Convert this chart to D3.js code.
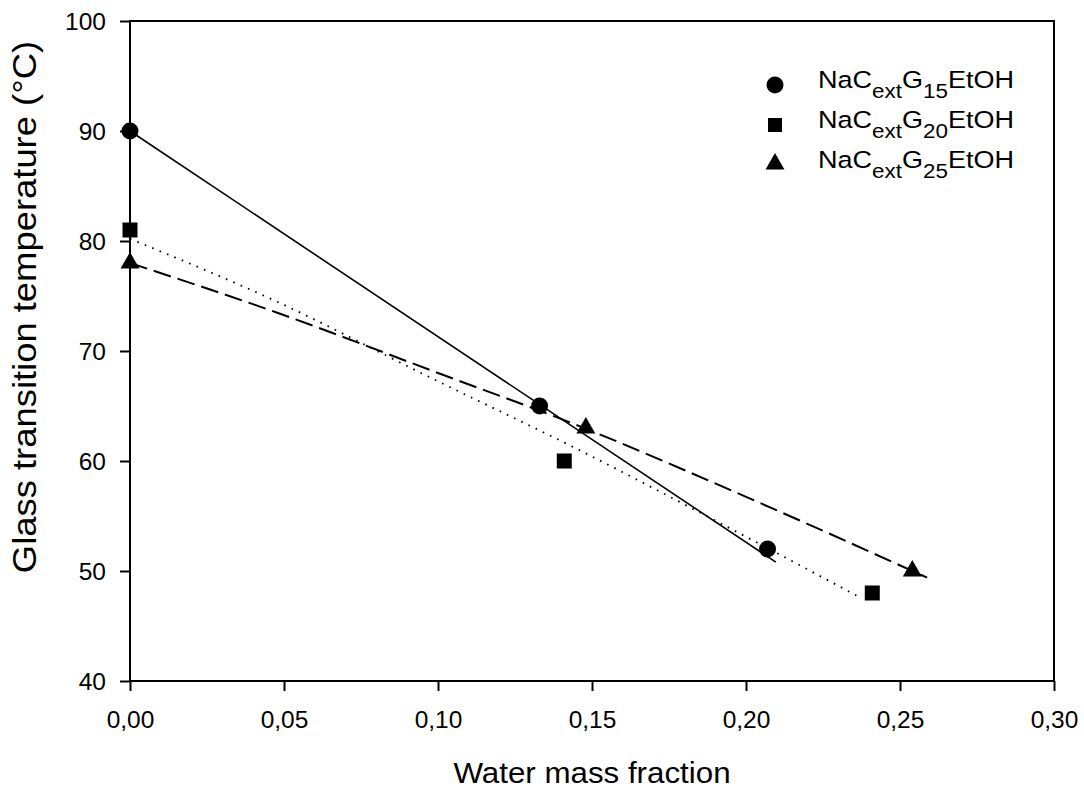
<!DOCTYPE html>
<html>
<head>
<meta charset="utf-8">
<script src="https://cdn.jsdelivr.net/npm/d3@7"></script>
<style>
  html, body { margin: 0; padding: 0; background: #fff; }
  svg { display: block; font-family: "Liberation Sans", Arial, sans-serif; }
</style>
</head>
<body>
<svg id="chart" width="1084" height="789"></svg>
<script>
// ---- data ----
const xTicks = [0, 0.05, 0.10, 0.15, 0.20, 0.25, 0.30];
const yTicks = [40, 50, 60, 70, 80, 90, 100];

const g15X = [0, 0.133, 0.207];
const g15Y = [90, 65, 52];
const g20X = [0, 0.141, 0.241];
const g20Y = [81, 60, 48];
const g25X = [0, 0.148, 0.254];
const g25Y = [78, 63, 50];

// fitted curves
const fit15X = [0, 0.2097];
const fit15Y = [90, 50.8];
const fit20X = [0, 0.0476, 0.0974, 0.1451, 0.1899, 0.2377];
const fit20Y = [80.2, 74.5, 67.6, 61.1, 54.6, 47.5];
const fit25X = [0, 0.0476, 0.1, 0.1438, 0.2036, 0.2588];
const fit25Y = [78.0, 73.5, 68.0, 63.4, 56.3, 49.4];

const legendLabels = [
  ["NaC", "ext", "G", "15", "EtOH"],
  ["NaC", "ext", "G", "20", "EtOH"],
  ["NaC", "ext", "G", "25", "EtOH"]
];

// ---- layout ----
const L = 130, R = 1054, T = 21, B = 681;
const svg = d3.select("#chart");
const x = d3.scaleLinear().domain([0, 0.30]).range([L, R]);
const y = d3.scaleLinear().domain([40, 100]).range([B, T]);
const fmt = v => d3.format(".2f")(v).replace(".", ",");

// axes
const xAxis = svg.append("g").attr("transform", `translate(0,${B})`)
  .call(d3.axisBottom(x).tickValues(xTicks).tickFormat(fmt).tickSize(10).tickSizeOuter(0));
const yAxis = svg.append("g").attr("transform", `translate(${L},0)`)
  .call(d3.axisLeft(y).tickValues(yTicks).tickFormat(d3.format("d")).tickSize(10).tickSizeOuter(0));
[xAxis, yAxis].forEach(a => {
  a.select(".domain").remove();
  a.selectAll("line").attr("stroke", "#000").attr("stroke-width", 2);
  a.selectAll("text").attr("fill", "#000").style("font-size", "24.5px")
    .style("font-family", "'Liberation Sans', Arial, sans-serif");
});
xAxis.selectAll("text").attr("dy", null).attr("y", 47);
yAxis.selectAll("text").attr("x", -24).attr("dy", "0.36em");

// frame
svg.append("rect").attr("x", L).attr("y", T).attr("width", R - L).attr("height", B - T)
  .attr("fill", "none").attr("stroke", "#000").attr("stroke-width", 2);

// titles
svg.append("text").attr("transform", `translate(${(L + R) / 2},783) scale(1.08,1)`)
  .attr("text-anchor", "middle").style("font-size", "29px").text("Water mass fraction");
svg.append("text").attr("transform", `translate(36,307) rotate(-90) scale(1.12,1)`)
  .attr("text-anchor", "middle").style("font-size", "32.5px")
  .text("Glass transition temperature (°C)");

// fit lines
const mk = (xs, ys) => xs.map((d, i) => [d, ys[i]]);
const line = d3.line().x(d => x(d[0])).y(d => y(d[1])).curve(d3.curveMonotoneX);
svg.append("path").datum(mk(fit15X, fit15Y)).attr("d", line)
  .attr("fill", "none").attr("stroke", "#000").attr("stroke-width", 1.6);
svg.append("path").datum(mk(fit20X, fit20Y)).attr("d", line)
  .attr("fill", "none").attr("stroke", "#000").attr("stroke-width", 1.8)
  .attr("stroke-dasharray", "1.6,6.4");
svg.append("path").datum(mk(fit25X, fit25Y)).attr("d", line)
  .attr("fill", "none").attr("stroke", "#000").attr("stroke-width", 2)
  .attr("stroke-dasharray", "18,7");

// markers
const symCircle = d3.symbol().type(d3.symbolCircle).size(Math.PI * 8.5 * 8.5);
const symSquare = d3.symbol().type(d3.symbolSquare).size(15 * 15);
const symTri = d3.symbol().type(d3.symbolTriangle).size(155);
const series = [
  { xs: g15X, ys: g15Y, sym: symCircle },
  { xs: g20X, ys: g20Y, sym: symSquare },
  { xs: g25X, ys: g25Y, sym: symTri }
];
series.forEach(s => {
  svg.append("g").selectAll("path").data(mk(s.xs, s.ys)).join("path")
    .attr("transform", d => `translate(${x(d[0])},${y(d[1])})`)
    .attr("d", s.sym()).attr("fill", "#000");
});

// legend
const legY = [85, 125, 164];
const legSyms = [symCircle, d3.symbol().type(d3.symbolSquare).size(14 * 14), symTri];
legendLabels.forEach((lab, i) => {
  svg.append("path").attr("transform", `translate(775,${legY[i]})`)
    .attr("d", legSyms[i]()).attr("fill", "#000");
  const t = svg.append("text")
    .attr("transform", `translate(818,${88 + i * 40}) scale(1.15,1)`)
    .style("font-size", "23.5px");
  t.append("tspan").text(lab[0]);
  t.append("tspan").attr("dy", 10).style("font-size", "19.5px").text(lab[1]);
  t.append("tspan").attr("dy", -10).text(lab[2]);
  t.append("tspan").attr("dy", 10).style("font-size", "19.5px").text(lab[3]);
  t.append("tspan").attr("dy", -10).text(lab[4]);
});
</script>
</body>
</html>
